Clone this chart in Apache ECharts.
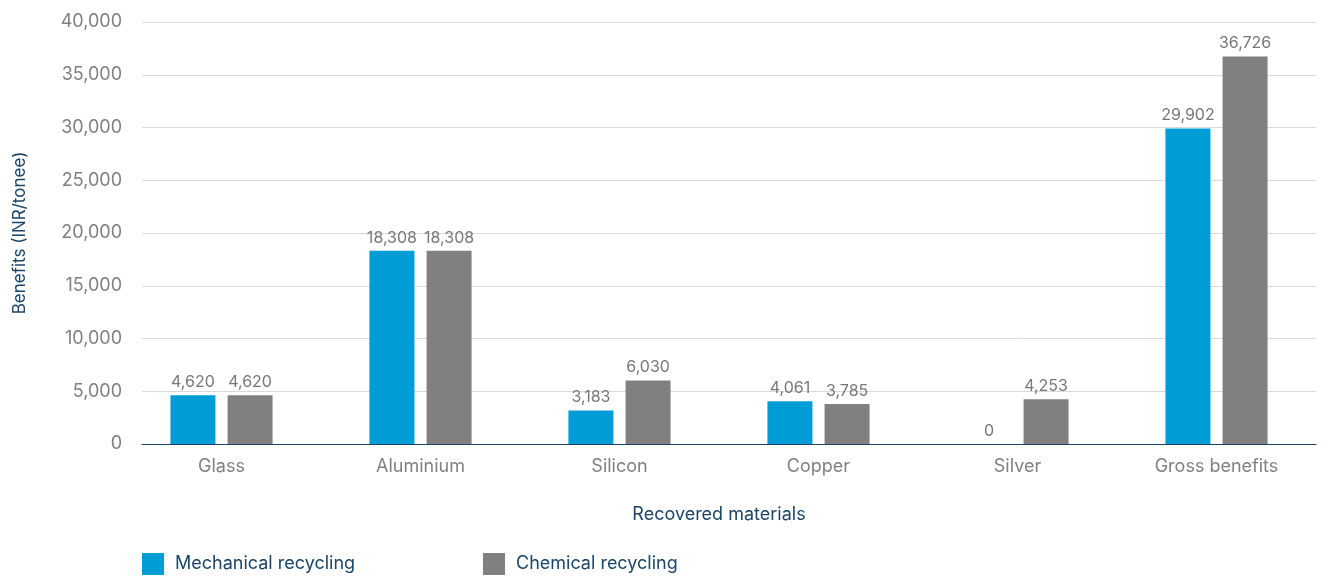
<!DOCTYPE html>
<html>
<head>
<meta charset="utf-8">
<script src="https://cdn.jsdelivr.net/npm/echarts@6/dist/echarts.min.js"></script>
<style>
  html, body { margin: 0; padding: 0; background: #fff; }
  #chart { width: 1328px; height: 576px; }
</style>
</head>
<body>
<div id="chart"></div>
<script>
// recovered materials and benefits (INR/tonee)
var categories = ['Glass', 'Aluminium', 'Silicon', 'Copper', 'Silver', 'Gross benefits'];
var mechanical = [4620, 18308, 3183, 4061, 0, 29902];
var chemical = [4620, 18308, 6030, 3785, 4253, 36726];
var yTicks = [0, 5000, 10000, 15000, 20000, 25000, 30000, 35000, 40000];

var navy = '#1b4466';
var grey = '#808080';
var font = 'Inter, "Noto Sans", sans-serif';

var myChart = echarts.init(document.getElementById('chart'));

function fmt(p) {
    return p.value.toLocaleString('en-US');
}

myChart.setOption({
    color: ['#009cd6', '#808080'],
    textStyle: { fontFamily: font },
    animation: false,
    legend: [
        {
            left: 137, top: 548, itemWidth: 22, itemHeight: 22, icon: 'rect',
            data: ['Mechanical recycling'],
            textStyle: { color: navy, fontSize: 18, fontFamily: font, padding: [0, 0, 0, 6] }
        },
        {
            left: 478, top: 548, itemWidth: 22, itemHeight: 22, icon: 'rect',
            data: ['Chemical recycling'],
            textStyle: { color: navy, fontSize: 18, fontFamily: font, padding: [0, 0, 0, 6] }
        }
    ],
    grid: [
        { left: 122, right: 12, top: 22, bottom: 132 },
        { left: 142, right: 12, top: 22, bottom: 132 }
    ],
    xAxis: [
        {
            type: 'category',
            gridIndex: 0,
            data: categories,
            axisLine: { show: false },
            axisTick: { show: false },
            axisLabel: { color: grey, fontSize: 18, margin: 14 },
            name: 'Recovered materials',
            nameLocation: 'middle',
            nameGap: 62,
            nameTextStyle: { color: navy, fontSize: 18 }
        },
        {
            type: 'category',
            gridIndex: 1,
            data: categories,
            axisLine: { show: true, lineStyle: { color: navy, width: 1.2 } },
            axisTick: { show: false },
            axisLabel: { show: false }
        }
    ],
    yAxis: [
        {
            type: 'value',
            gridIndex: 0,
            min: yTicks[0],
            max: yTicks[yTicks.length - 1],
            interval: 5000,
            splitLine: { show: false },
            axisLine: { show: false },
            axisTick: { show: false },
            axisLabel: {
                color: grey, fontSize: 18, margin: 0,
                formatter: function (v) { return v.toLocaleString('en-US'); }
            },
            name: 'Benefits (INR/tonee)',
            nameLocation: 'middle',
            nameGap: 94,
            nameRotate: 90,
            nameTextStyle: { color: navy, fontSize: 17 }
        },
        {
            type: 'value',
            gridIndex: 1,
            min: yTicks[0],
            max: yTicks[yTicks.length - 1],
            interval: 5000,
            splitLine: { show: true, lineStyle: { color: '#d9d9d9', width: 1 } },
            axisLine: { show: false },
            axisTick: { show: false },
            axisLabel: { show: false }
        }
    ],
    series: [
        {
            name: 'Mechanical recycling',
            type: 'bar',
            xAxisIndex: 0,
            yAxisIndex: 0,
            data: mechanical,
            barWidth: 45,
            barGap: '27%',
            z: 3,
            label: {
                show: true, position: 'top', distance: 5,
                color: '#777', fontSize: 16, formatter: fmt
            }
        },
        {
            name: 'Chemical recycling',
            type: 'bar',
            xAxisIndex: 0,
            yAxisIndex: 0,
            data: chemical,
            barWidth: 45,
            barGap: '27%',
            z: 3,
            label: {
                show: true, position: 'top', distance: 5,
                color: '#777', fontSize: 16, formatter: fmt
            }
        }
    ]
});
</script>
</body>
</html>
